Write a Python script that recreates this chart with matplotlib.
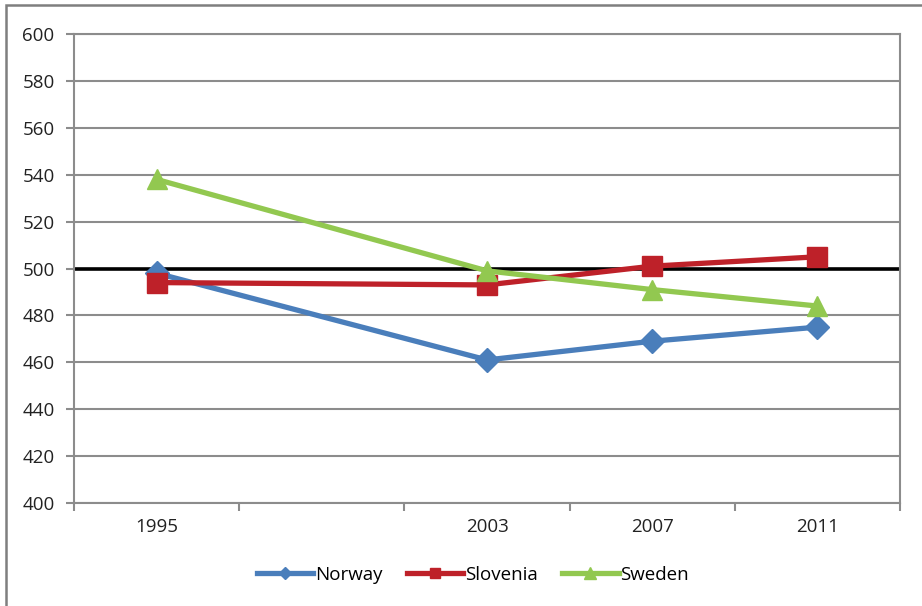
import numpy as np
import matplotlib.pyplot as plt
from matplotlib.patches import Rectangle

# data
years = ["1995", "", "2003", "2007", "2011"]
norway = [498, np.nan, 461, 469, 475]
slovenia = [494, np.nan, 493, 501, 505]
sweden = [538, np.nan, 499, 491, 484]
benchmark = 500

plt.rcParams["font.family"] = ["Open Sans", "DejaVu Sans"]

fig = plt.figure(figsize=(9.22, 6.06), dpi=100)
ax = fig.add_axes([74 / 922, 1 - 503 / 606, (900 - 74) / 922, (503 - 34) / 606])

x = np.arange(len(years))
grid_col = "#8c8c8c"
fs = 13.5

ax.set_ylim(400, 600)
ax.set_yticks(np.arange(400, 601, 20))
ax.set_xlim(-0.5, len(years) - 0.5)
ax.set_xticks(x)
ax.set_xticklabels(years)
ax.set_xticks(np.arange(-0.5, len(years)), minor=True)
ax.tick_params(axis="x", which="major", length=0, pad=11, labelsize=fs, colors="#222222")
ax.tick_params(axis="x", which="minor", length=6, width=1.5, color=grid_col)
ax.tick_params(axis="y", length=6, width=1.5, color=grid_col, labelsize=fs,
               labelcolor="#222222", pad=8)
ax.yaxis.grid(True, color=grid_col, linewidth=1.5)
ax.set_axisbelow(True)
for s in ax.spines.values():
    s.set_color(grid_col)
    s.set_linewidth(1.5)

ax.axhline(benchmark, color="black", linewidth=2.6, zorder=2)

def draw(vals, color, marker, ms, label):
    v = np.array(vals, dtype=float)
    m = ~np.isnan(v)
    ax.plot(x[m], v[m], color=color, linewidth=3.8, marker=marker,
            markersize=ms, label=label, zorder=3)

draw(norway, "#4a7ebb", "D", 12, "Norway")
draw(slovenia, "#be2129", "s", 14, "Slovenia")
draw(sweden, "#92c850", "^", 15, "Sweden")

fig.legend(loc="center", bbox_to_anchor=(0.5 + 12 / 922, 1 - 575 / 606), ncol=3,
           frameon=False, fontsize=fs, handlelength=3.0,
           handletextpad=0.1, columnspacing=1.3, markerscale=0.55)

# outer chart border
fig.patches.append(Rectangle((6 / 922, -0.05), 1.2, 1 - 5 / 606 + 0.05,
                             transform=fig.transFigure, fill=False,
                             edgecolor="#7f7f7f", linewidth=1.8))

plt.savefig("out.png", dpi=100)
